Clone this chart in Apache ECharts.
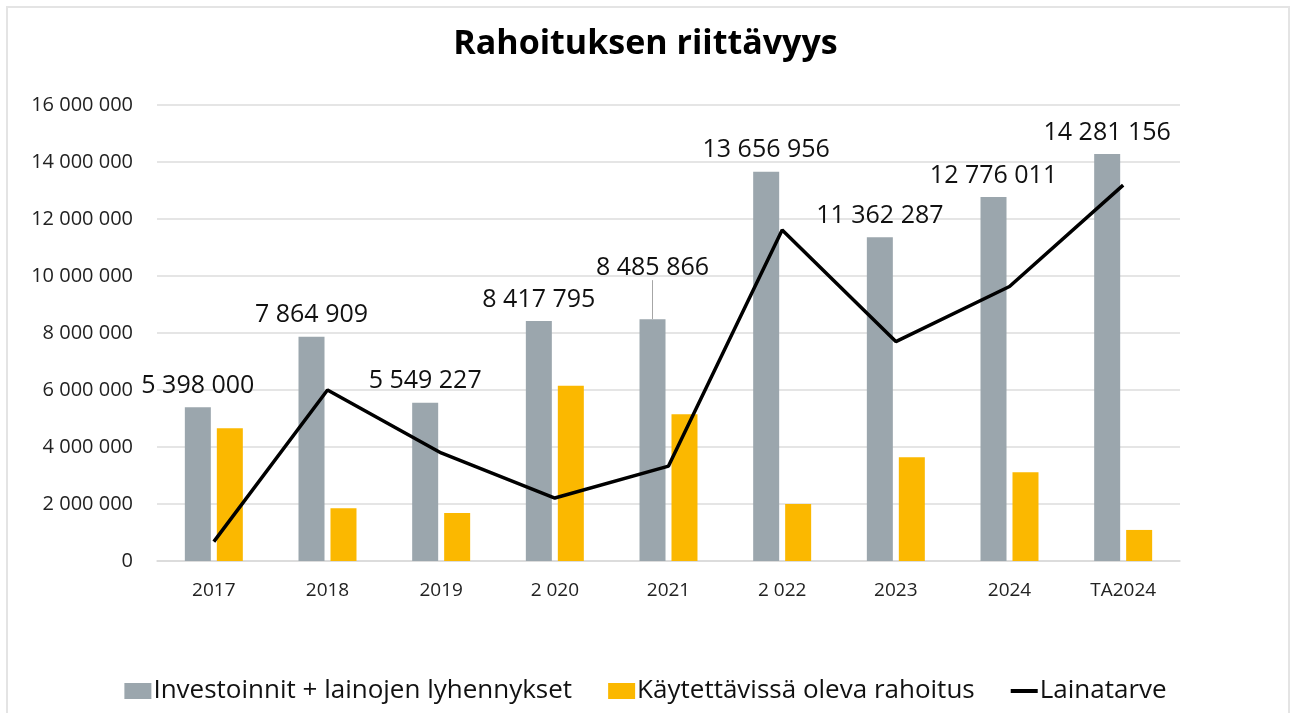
<!DOCTYPE html>
<html>
<head>
<meta charset="utf-8">
<script src="https://cdn.jsdelivr.net/npm/echarts@6/dist/echarts.min.js"></script>
<style>
  html, body { margin: 0; padding: 0; background: #fff; }
  #chart { width: 1291px; height: 713px; }
  .frame {
    position: absolute; left: 6px; top: 6px; width: 1280px; height: 720px;
    border: 2px solid #e4e4e4; border-bottom: none; pointer-events: none;
  }
</style>
</head>
<body>
<div id="chart"></div>
<div class="frame"></div>
<script>
// vuodet
const years = ["2017", "2018", "2019", "2 020", "2021", "2 022", "2023", "2024", "TA2024"];
// Investoinnit + lainojen lyhennykset
const investoinnit = [5398000, 7864909, 5549227, 8417795, 8485866, 13656956, 11362287, 12776011, 14281156];
// Käytettävissä oleva rahoitus (arvioitu kuvasta)
const rahoitus = [4660000, 1850000, 1680000, 6150000, 5150000, 2000000, 3640000, 3110000, 1090000];
// Lainatarve (arvioitu kuvasta)
const lainatarve = [680000, 6000000, 3790000, 2210000, 3330000, 11610000, 7700000, 9630000, 13190000];

const fmt = (v) => String(v).replace(/\B(?=(\d{3})+(?!\d))/g, " ");
const font = "'Open Sans', sans-serif";

// 2021 label is lifted up with a thin leader line
const investData = investoinnit.map((v, i) =>
  i === 4 ? { value: v, labelLine: { show: true } } : v
);

const chart = echarts.init(document.getElementById("chart"));
const option = {
  animation: false,
  textStyle: { fontFamily: font },
  title: {
    text: "Rahoituksen riittävyys",
    left: "center",
    top: 22,
    textStyle: { fontSize: 34, fontWeight: "bold", color: "#000", fontFamily: font },
  },
  legend: {
    data: [
      { name: "Investoinnit + lainojen lyhennykset", icon: "rect" },
      { name: "Käytettävissä oleva rahoitus", icon: "rect" },
      { name: "Lainatarve", icon: "path://M0 0H27V4H0Z" },
    ],
    left: "center",
    top: 673,
    itemWidth: 27,
    itemHeight: 16,
    itemGap: 36,
    textStyle: { fontSize: 26, color: "#111", padding: [0, 0, 0, -3] },
  },
  grid: { left: 157, right: 111, top: 105, bottom: 152 },
  xAxis: {
    type: "category",
    data: years,
    axisLine: { lineStyle: { color: "#d9d9d9", width: 1.5 } },
    axisTick: { show: false },
    axisLabel: { fontSize: 19, color: "#222", margin: 20 },
  },
  yAxis: {
    type: "value",
    min: 0,
    max: 16000000,
    interval: 2000000,
    axisLabel: { fontSize: 20, color: "#222", margin: 24, formatter: fmt },
    splitLine: { lineStyle: { color: "#dcdcdc", width: 1.5 } },
  },
  series: [
    {
      name: "Investoinnit + lainojen lyhennykset",
      type: "bar",
      data: investData,
      barWidth: 26,
      barGap: "23%",
      itemStyle: { color: "#9ba6ad" },
      label: {
        show: true,
        position: "top",
        distance: 9,
        fontSize: 25,
        color: "#111",
        formatter: (p) => fmt(p.value),
      },
      labelLayout: (p) => (p.dataIndex === 4 ? { dy: -30 } : {}),
      labelLine: { show: false, lineStyle: { color: "#a6a6a6", width: 1 } },
    },
    {
      name: "Käytettävissä oleva rahoitus",
      type: "bar",
      data: rahoitus,
      barWidth: 26,
      itemStyle: { color: "#fbb800" },
    },
    {
      name: "Lainatarve",
      type: "line",
      data: lainatarve,
      symbol: "none",
      lineStyle: { color: "#000", width: 3.5 },
      itemStyle: { color: "#000" },
    },
  ],
};
chart.setOption(option);
</script>
</body>
</html>
